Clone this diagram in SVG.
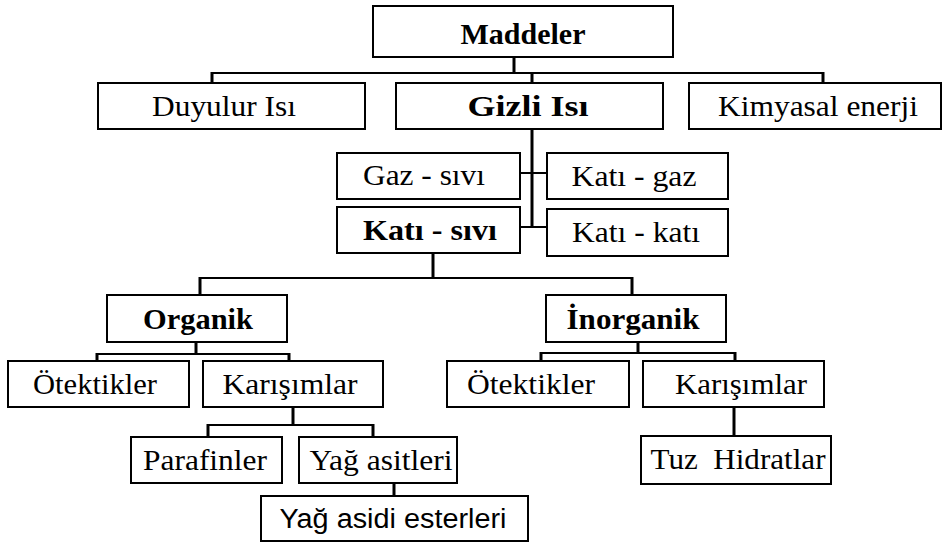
<svg xmlns="http://www.w3.org/2000/svg" width="947" height="543" viewBox="0 0 947 543">
<style>
rect.b{fill:#fff;stroke:#000;stroke-width:2}
text{font-family:"Liberation Serif","Times New Roman",serif;font-size:29px;fill:#000;text-anchor:middle}
text.bd{font-weight:bold}
text.ss{font-family:"Liberation Sans",Arial,sans-serif;font-size:27px}
.c path{fill:none;stroke:#000}
.h{stroke-width:2}
.v{stroke-width:3}
</style>
<rect width="947" height="543" fill="#fff"/>
<g class="c" id="connectors">
<path class="v" d="M514,57V73"/>
<path class="h" d="M212,73H823"/>
<path class="v" d="M212,72V83M532,72V83M823,72V83"/>
<path class="v" d="M532,129V227"/>
<path class="h" d="M519,173H548M519,227H548"/>
<path class="v" d="M433,253V278"/>
<path class="h" d="M200,278H633"/>
<path class="v" d="M200,277V295M632,277V295"/>
<path class="v" d="M196,342V354"/>
<path class="h" d="M97,354H290"/>
<path class="v" d="M97,353V361M289,353V361"/>
<path class="v" d="M638,342V353"/>
<path class="h" d="M541,353H735"/>
<path class="v" d="M541,352V361M735,352V361"/>
<path class="v" d="M293,407V425"/>
<path class="h" d="M208,425H373"/>
<path class="v" d="M208,424V437M373,424V437"/>
<path class="v" d="M394,483V496"/>
<path class="v" d="M734,407V436"/>
</g>
<g id="maddeler"><rect class="b" x="373" y="6" width="300" height="51"/><text class="bd" x="523" y="44" textLength="125" lengthAdjust="spacingAndGlyphs">Maddeler</text></g>
<g id="duyulur"><rect class="b" x="98" y="83" width="267" height="46"/><text x="224" y="116" textLength="144" lengthAdjust="spacingAndGlyphs">Duyulur Isı</text></g>
<g id="gizli"><rect class="b" x="396" y="83" width="267" height="46"/><text class="bd" x="528" y="116" textLength="121" lengthAdjust="spacingAndGlyphs">Gizli Isı</text></g>
<g id="kimyasal"><rect class="b" x="689" y="83" width="252" height="46"/><text x="818" y="116" textLength="200" lengthAdjust="spacingAndGlyphs">Kimyasal enerji</text></g>
<g id="gaz-sivi"><rect class="b" x="337" y="153" width="183" height="46"/><text x="424" y="185" textLength="122" lengthAdjust="spacingAndGlyphs">Gaz - sıvı</text></g>
<g id="kati-gaz"><rect class="b" x="547" y="153" width="181" height="46"/><text x="634" y="186" textLength="125" lengthAdjust="spacingAndGlyphs">Katı - gaz</text></g>
<g id="kati-sivi"><rect class="b" x="337" y="207" width="183" height="46"/><text class="bd" x="430" y="240" textLength="134" lengthAdjust="spacingAndGlyphs">Katı - sıvı</text></g>
<g id="kati-kati"><rect class="b" x="547" y="209" width="181" height="47"/><text x="636" y="242" textLength="128" lengthAdjust="spacingAndGlyphs">Katı - katı</text></g>
<g id="organik"><rect class="b" x="107" y="295" width="180" height="47"/><text class="bd" x="198" y="329" textLength="110" lengthAdjust="spacingAndGlyphs">Organik</text></g>
<g id="inorganik"><rect class="b" x="546" y="295" width="180" height="47"/><text class="bd" x="633" y="329" textLength="133" lengthAdjust="spacingAndGlyphs">İnorganik</text></g>
<g id="otektikler1"><rect class="b" x="8" y="361" width="181" height="46"/><text x="95" y="394" textLength="124" lengthAdjust="spacingAndGlyphs">Ötektikler</text></g>
<g id="karisimlar1"><rect class="b" x="203" y="361" width="180" height="46"/><text x="290" y="394" textLength="135" lengthAdjust="spacingAndGlyphs">Karışımlar</text></g>
<g id="otektikler2"><rect class="b" x="447" y="361" width="182" height="46"/><text x="531" y="394" textLength="128" lengthAdjust="spacingAndGlyphs">Ötektikler</text></g>
<g id="karisimlar2"><rect class="b" x="643" y="361" width="181" height="46"/><text x="741" y="394" textLength="132" lengthAdjust="spacingAndGlyphs">Karışımlar</text></g>
<g id="parafinler"><rect class="b" x="131" y="437" width="151" height="46"/><text x="205" y="470" textLength="124" lengthAdjust="spacingAndGlyphs">Parafinler</text></g>
<g id="yag-asitleri"><rect class="b" x="299" y="437" width="158" height="46"/><text x="381" y="470" textLength="143" lengthAdjust="spacingAndGlyphs">Yağ asitleri</text></g>
<g id="tuz-hidratlar"><rect class="b" x="641" y="436" width="190" height="48"/><text x="738" y="469" textLength="175" lengthAdjust="spacingAndGlyphs">Tuz&#160; Hidratlar</text></g>
<g id="yag-asidi-esterleri"><rect class="b" x="261" y="496" width="267" height="45"/><text class="ss" x="393" y="528" textLength="227" lengthAdjust="spacingAndGlyphs">Yağ asidi esterleri</text></g>
</svg>
